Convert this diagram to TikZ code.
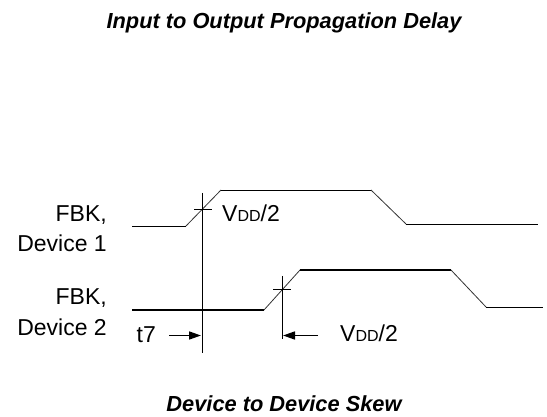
\documentclass[tikz,border=0pt]{standalone}
\usepackage{fontspec}
\setmainfont{Liberation Sans}
\usetikzlibrary{arrows.meta}
\begin{document}
\begin{tikzpicture}[x=1pt,y=-1pt,
  title/.style={font=\fontsize{21.8}{25}\selectfont\bfseries\itshape, inner sep=0pt, anchor=base},
  lbl/.style={font=\fontsize{23}{26}\selectfont, inner sep=0pt},
  thinw/.style={line width=0.9pt},
  thickw/.style={line width=1.7pt},
  slope/.style={line width=0.8pt, black!80},
  guide/.style={line width=0.8pt},
  arr/.style={line width=1.6pt, -{Triangle[length=12pt,width=8pt]}}]
\useasboundingbox (0,0) rectangle (547,417);
\newcommand{\vdd}{V{\fontsize{16}{16}\selectfont DD}/2}
% titles
\node[title] (t1) at (284,28.3) {Input to Output Propagation Delay};
\node[title] (t2) at (284,411) {Device to Device Skew};
% labels
\node[lbl, anchor=base east] (f1) at (107,221.7) {FBK,};
\node[lbl, anchor=base east] (d1) at (107,251.7) {Device 1};
\node[lbl, anchor=base east] (f2) at (107,305) {FBK,};
\node[lbl, anchor=base east] (d2) at (107,335.5) {Device 2};
% waveform 1
\coordinate (a0) at (132,226);
\coordinate (a1) at (186,226);
\coordinate (a2) at (221,190);
\coordinate (a3) at (371,190);
\coordinate (a4) at (406,224);
\coordinate (a5) at (538,224);
\draw[thinw] (a0) -- (a1);
\draw[slope] (a1) -- (a2);
\draw[thinw] (a2) -- (a3);
\draw[slope] (a3) -- (a4);
\draw[thinw] (a4) -- (a5);
% waveform 2
\coordinate (b0) at (132,310);
\coordinate (b1) at (264,310);
\coordinate (b2) at (300,270);
\coordinate (b3) at (451,270);
\coordinate (b4) at (486,307);
\coordinate (b5) at (543,307);
\draw[thickw] (b0) -- (b1);
\draw[slope] (b1) -- (b2);
\draw[thickw] (b2) -- (b3);
\draw[slope] (b3) -- (b4);
\draw[thinw] (b4) -- (b5);
% guides and ticks
\coordinate (v1t) at (202,193);
\coordinate (v1b) at (202,353);
\draw[guide] (v1t) -- (v1b);
\coordinate (k1l) at (194,209);
\coordinate (k1r) at (212,209);
\draw[guide] (k1l) -- (k1r);
\coordinate (v2t) at (282,276);
\coordinate (v2b) at (282,339);
\draw[guide] (v2t) -- (v2b);
\coordinate (k2l) at (273,289);
\coordinate (k2r) at (291,289);
\draw[guide] (k2l) -- (k2r);
% VDD labels
\node[lbl, anchor=base west] (vd1) at (222,222) {\vdd};
\node[lbl, anchor=base west] (vd2) at (340,341.5) {\vdd};
\node[lbl, anchor=base west] (t7) at (136.5,342) {t7};
% arrows
\coordinate (p1) at (169,335.5);
\coordinate (p2) at (201,335.5);
\draw[arr] (p1) -- (p2);
\coordinate (q1) at (318,335.5);
\coordinate (q2) at (283,335.5);
\draw[arr] (q1) -- (q2);
\end{tikzpicture}
\end{document}
